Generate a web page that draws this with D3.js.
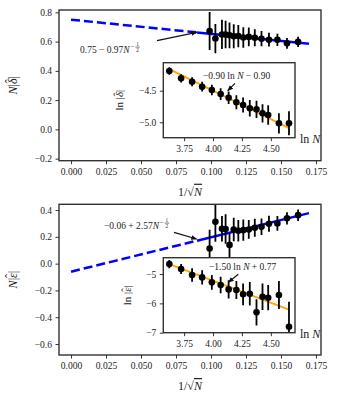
<!DOCTYPE html>
<html lang="en">
<head>
<meta charset="UTF-8">
<title>Finite size scaling</title>
<script src="https://cdn.jsdelivr.net/npm/d3@7"></script>
<style>
  body { margin: 0; background: #fff; }
  svg text { font-family: "Liberation Serif", "DejaVu Serif", serif; fill: #222; }
</style>
</head>
<body>
<div id="chart"></div>
<script>
// system sizes N (x of main panels is 1/sqrt(N))
var sizes = [38, 42, 46, 50, 54, 58, 62, 66, 70, 74, 78, 82, 86, 94, 102];
// ln N as drawn in the insets
var lnN = [3.622, 3.724, 3.819, 3.906, 3.990, 4.066, 4.135, 4.202, 4.260, 4.318, 4.376, 4.428, 4.477, 4.570, 4.657];

// top panel: N|delta|
var deltaVals = [0.598, 0.588, 0.612, 0.613, 0.620, 0.626, 0.632, 0.628, 0.638, 0.636, 0.643, 0.648, 0.649, 0.621, 0.672];
var deltaErr  = [0.035, 0.037, 0.042, 0.047, 0.052, 0.058, 0.064, 0.070, 0.076, 0.082, 0.088, 0.094, 0.100, 0.100, 0.130];
var lnDelta    = [-4.188, -4.304, -4.358, -4.437, -4.489, -4.553, -4.611, -4.684, -4.727, -4.779, -4.795, -4.858, -4.885, -5.017, -5.017];
var lnDeltaErr = [0.06, 0.065, 0.07, 0.077, 0.085, 0.093, 0.10, 0.11, 0.12, 0.13, 0.137, 0.145, 0.155, 0.16, 0.19];

// bottom panel: N|epsilon|
var epsVals = [0.362, 0.338, 0.300, 0.298, 0.275, 0.268, 0.255, 0.250, 0.245, 0.255, 0.140, 0.258, 0.260, 0.313, 0.113];
var epsErr  = [0.043, 0.046, 0.055, 0.060, 0.062, 0.068, 0.070, 0.080, 0.080, 0.088, 0.090, 0.110, 0.095, 0.150, 0.140];
var lnEps    = [-4.659, -4.83, -5.034, -5.114, -5.284, -5.375, -5.523, -5.545, -5.693, -5.67, -6.307, -5.773, -5.807, -5.716, -6.795];
var lnEpsErr = [0.14, 0.17, 0.23, 0.24, 0.25, 0.28, 0.31, 0.31, 0.37, 0.40, 0.45, 0.45, 0.43, 0.48, 0.85];

// tick values
var xTicks = [0, 0.025, 0.05, 0.075, 0.1, 0.125, 0.15, 0.175];
var deltaTicks = [-0.2, 0, 0.2, 0.4, 0.6, 0.8];
var epsTicks = [-0.6, -0.4, -0.2, 0, 0.2, 0.4];
var lnNTicks = [3.75, 4.0, 4.25, 4.5];
var lnDeltaTicks = [-5.0, -4.5];
var lnEpsTicks = [-7, -6, -5];

// fits (coefficients as printed on the chart)
var deltaFit = [0.75, -0.97];      // a + b N^-1/2
var epsFit = [-0.06, 2.57];
var lnDeltaFit = [-0.90, -0.90];   // slope, intercept
var lnEpsFit = [-1.50, 0.77];

var W = 337, H = 400;
var svg = d3.select("#chart").append("svg").attr("width", W).attr("height", H);

var defs = svg.append("defs");
defs.append("marker").attr("id", "arr")
  .attr("viewBox", "0 0 10 10").attr("refX", 9).attr("refY", 5)
  .attr("markerWidth", 6).attr("markerHeight", 6).attr("orient", "auto")
  .attr("markerUnits", "userSpaceOnUse")
  .append("path").attr("d", "M0,1 L10,5 L0,9 z").attr("fill", "#111");

var clipId = 0;

// text with italic pieces: parts = [[str, italic, overline], ...]
function mathText(sel, parts) {
  parts.forEach(function(p) {
    var t = sel.append("tspan").text(p[0]);
    if (p[1]) t.style("font-style", "italic");
    if (p[2]) t.style("text-decoration", "overline");
  });
  return sel;
}

// |sym with hat|
function hatted(sel, sym) {
  sel.append("tspan").text("|");
  sel.append("tspan").style("font-style", "italic").text(sym);
  sel.append("tspan").attr("dx", "-0.40em").attr("dy", "-0.22em").text("\u02C6");
  sel.append("tspan").attr("dx", "0.06em").attr("dy", "0.22em").text("|");
}

// "base" followed by superscript -1/2 as stacked fraction
function powerLabel(g, x, y, parts, size) {
  var t = g.append("text").attr("x", x).attr("y", y).style("font-size", size + "px");
  mathText(t, parts);
  var w = t.node().getComputedTextLength();
  var sx = x + w + 1;
  var m = g.append("text").attr("x", sx).attr("y", y - size * 0.42)
    .style("font-size", (size * 0.72) + "px").text("\u2212");
  var fx = sx + m.node().getComputedTextLength() + 3;
  g.append("text").attr("x", fx).attr("y", y - size * 0.72).attr("text-anchor", "middle")
    .style("font-size", (size * 0.55) + "px").text("1");
  g.append("line").attr("x1", fx - 2.2).attr("x2", fx + 2.2)
    .attr("y1", y - size * 0.62).attr("y2", y - size * 0.62)
    .attr("stroke", "#222").attr("stroke-width", 0.6);
  g.append("text").attr("x", fx).attr("y", y - size * 0.12).attr("text-anchor", "middle")
    .style("font-size", (size * 0.55) + "px").text("2");
}

function arrow(g, x1, y1, x2, y2) {
  g.append("line").attr("x1", x1).attr("y1", y1).attr("x2", x2).attr("y2", y2)
    .attr("stroke", "#111").attr("stroke-width", 1.2).attr("marker-end", "url(#arr)");
}

function styleAxis(ax, fs) {
  ax.select(".domain").remove();
  ax.selectAll(".tick line").attr("stroke", "#333").attr("stroke-width", 1);
  ax.selectAll(".tick text").style("font-size", fs + "px")
    .style("font-family", "'Liberation Serif', serif").attr("fill", "#333");
}

function frame(g, box, fill) {
  g.append("rect").attr("x", box.l).attr("y", box.t)
    .attr("width", box.r - box.l).attr("height", box.b - box.t)
    .attr("fill", fill).attr("stroke", "none");
}
function border(g, box) {
  g.append("rect").attr("x", box.l).attr("y", box.t)
    .attr("width", box.r - box.l).attr("height", box.b - box.t)
    .attr("fill", "none").attr("stroke", "#333").attr("stroke-width", 1.4);
}

function clipFor(box) {
  var id = "clip" + (clipId++);
  defs.append("clipPath").attr("id", id).append("rect")
    .attr("x", box.l).attr("y", box.t).attr("width", box.r - box.l).attr("height", box.b - box.t);
  return "url(#" + id + ")";
}

function errorDots(g, xs, ys, errs, x, y) {
  g.selectAll(null).data(xs).enter().append("line")
    .attr("x1", function(d) { return x(d); }).attr("x2", function(d) { return x(d); })
    .attr("y1", function(d, i) { return y(ys[i] - errs[i]); })
    .attr("y2", function(d, i) { return y(ys[i] + errs[i]); })
    .attr("stroke", "#000").attr("stroke-width", 1.8);
  g.selectAll(null).data(xs).enter().append("circle")
    .attr("cx", function(d) { return x(d); })
    .attr("cy", function(d, i) { return y(ys[i]); })
    .attr("r", 3.3).attr("fill", "#000");
}

function drawPanel(cfg) {
  var g = svg.append("g");
  var box = cfg.main;
  var x = d3.scaleLinear().domain([-0.0086, 0.1786]).range([box.l, box.r]);
  var y = d3.scaleLinear().domain(cfg.yDomain).range([box.b, box.t]);

  frame(g, box, "#fff");
  var axX = g.append("g").attr("transform", "translate(0," + box.b + ")")
    .call(d3.axisBottom(x).tickValues(xTicks).tickFormat(d3.format(".3f")).tickSize(3.5).tickPadding(4));
  styleAxis(axX, 9.5);
  var axY = g.append("g").attr("transform", "translate(" + box.l + ",0)")
    .call(d3.axisLeft(y).tickValues(cfg.yTicks).tickFormat(d3.format(".1f")).tickSize(3.5).tickPadding(3.5));
  styleAxis(axY, 9.5);

  var plot = g.append("g").attr("clip-path", clipFor(box));
  var invN = sizes.map(function(n) { return 1 / Math.sqrt(n); });
  var fit = function(v) { return cfg.fit[0] + cfg.fit[1] * v; };
  var line = d3.line().x(function(d) { return x(d); }).y(function(d) { return y(fit(d)); });
  plot.append("path").attr("d", line([0, 0.09])).attr("fill", "none")
    .attr("stroke", "#0000ff").attr("stroke-width", 2.5).attr("stroke-dasharray", "9,4");
  plot.append("path").attr("d", line([0.09, 0.17])).attr("fill", "none")
    .attr("stroke", "#0000ff").attr("stroke-width", 2.5);
  errorDots(plot, invN, cfg.vals, cfg.errs, x, y);
  border(g, box);

  // axis labels
  var xl = g.append("text").attr("x", (box.l + box.r) / 2).attr("y", box.b + 35)
    .attr("text-anchor", "middle").style("font-size", "12px");
  mathText(xl, [["1/\u221A", false], ["N", true, true]]);
  var yl = g.append("text").attr("text-anchor", "middle").style("font-size", "12px")
    .attr("transform", "translate(" + 17 + "," + ((box.t + box.b) / 2) + ") rotate(-90)");
  mathText(yl, [["N", true]]);
  hatted(yl, cfg.sym);

  // annotation
  powerLabel(g, cfg.note.x, cfg.note.y, cfg.note.parts, 9.5);
  arrow(g, cfg.note.ax1, cfg.note.ay1, cfg.note.ax2, cfg.note.ay2);

  // inset
  var ib = cfg.inset;
  var xi = d3.scaleLinear().domain([3.570, 4.709]).range([ib.l, ib.r]);
  var yi = d3.scaleLinear().domain(cfg.iDomain).range([ib.b, ib.t]);
  frame(g, ib, "#fff");
  var axXi = g.append("g").attr("transform", "translate(0," + ib.b + ")")
    .call(d3.axisBottom(xi).tickValues(lnNTicks).tickFormat(d3.format(".2f")).tickSize(3.5).tickPadding(4));
  styleAxis(axXi, 9.5);
  var axYi = g.append("g").attr("transform", "translate(" + ib.l + ",0)")
    .call(d3.axisLeft(yi).tickValues(cfg.iTicks).tickFormat(d3.format(cfg.iFmt)).tickSize(3.5).tickPadding(3.5));
  styleAxis(axYi, 9.5);
  var ip = g.append("g").attr("clip-path", clipFor(ib));
  var ext = d3.extent(lnN);
  ip.append("path").attr("d", d3.line()
      .x(function(d) { return xi(d); })
      .y(function(d) { return yi(cfg.iFit[0] * d + cfg.iFit[1]); })(ext))
    .attr("fill", "none").attr("stroke", "#ffa500").attr("stroke-width", 2);
  errorDots(ip, lnN, cfg.iVals, cfg.iErrs, xi, yi);
  border(g, ib);

  var lnl = g.append("text").attr("x", ib.r + 5).attr("y", ib.b + 5).style("font-size", "12px");
  mathText(lnl, [["ln ", false], ["N", true]]);
  var iyl = g.append("text").attr("text-anchor", "middle").style("font-size", "11px")
    .attr("transform", "translate(" + cfg.iyLabelX + "," + ((ib.t + ib.b) / 2) + ") rotate(-90)");
  iyl.append("tspan").text("ln ");
  hatted(iyl, cfg.sym);

  var it = g.append("text").attr("x", cfg.inote.x).attr("y", cfg.inote.y).style("font-size", "9.5px");
  mathText(it, cfg.inote.parts);
  arrow(g, cfg.inote.ax1, cfg.inote.ay1, cfg.inote.ax2, cfg.inote.ay2);
}

drawPanel({
  main: {l: 59, r: 321, t: 10, b: 160.7},
  yDomain: [-0.214, 0.816], yTicks: deltaTicks,
  vals: deltaVals, errs: deltaErr, fit: deltaFit, sym: "\u03B4",
  note: {x: 80, y: 53, parts: [["0.75 \u2212 0.97", false], ["N", true]],
         ax1: 157, ay1: 40.7, ax2: 196.7, ay2: 32.3},
  inset: {l: 163.3, r: 295, t: 62.7, b: 137.7},
  iDomain: [-5.244, -4.057], iTicks: lnDeltaTicks, iFmt: ".1f",
  iVals: lnDelta, iErrs: lnDeltaErr, iFit: lnDeltaFit, iyLabelX: 123,
  inote: {x: 203, y: 79, parts: [["\u22120.90 ln ", false], ["N", true], [" \u2212 0.90", false]],
          ax1: 235, ay1: 83.3, ax2: 227.7, ay2: 90.7}
});

drawPanel({
  main: {l: 59, r: 321, t: 204.3, b: 355},
  yDomain: [-0.682, 0.443], yTicks: epsTicks,
  vals: epsVals, errs: epsErr, fit: epsFit, sym: "\u03B5",
  note: {x: 104, y: 229, parts: [["\u22120.06 + 2.57", false], ["N", true]],
         ax1: 174, ay1: 232.3, ax2: 196.7, ay2: 239},
  inset: {l: 163.3, r: 295, t: 257.7, b: 332.7},
  iDomain: [-7.0, -4.443], iTicks: lnEpsTicks, iFmt: ".0f",
  iVals: lnEps, iErrs: lnEpsErr, iFit: lnEpsFit, iyLabelX: 131,
  inote: {x: 209, y: 270, parts: [["\u22121.50 ln ", false], ["N", true], [" + 0.77", false]],
          ax1: 238.3, ay1: 274.3, ax2: 228.3, ay2: 282.3}
});
</script>
</body>
</html>
